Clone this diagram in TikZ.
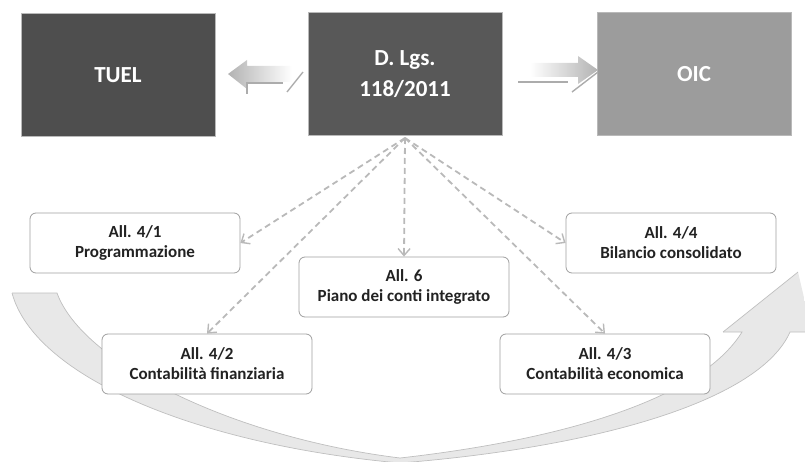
\documentclass[tikz,border=0pt]{standalone}
\usepackage{fontspec}
\setmainfont{Carlito}
\usetikzlibrary{arrows.meta}
\definecolor{tuelc}{HTML}{4E4E4E}
\definecolor{dlgsc}{HTML}{585858}
\definecolor{oicc}{HTML}{9C9C9C}
\definecolor{txt}{HTML}{222222}
\tikzset{
  topbox/.style={draw=gray!55, line width=0.8pt, minimum width=194pt, minimum height=123pt,
    text=white, font=\bfseries\fontsize{23}{31}\selectfont, align=center, inner sep=0pt},
  allbox/.style={draw=gray!75, line width=0.8pt, fill=white, rounded corners=6pt,
    minimum width=210pt, minimum height=60pt, text=txt, align=center,
    font=\bfseries\fontsize{17}{20}\selectfont, inner sep=0pt},
  dasharrow/.style={draw=gray!55, line width=1.8pt, dash pattern=on 6pt off 4pt,
    -{Straight Barb[length=7pt,width=12pt,line width=1.4pt]}},
  edgeline/.style={draw=gray!50, line width=0.7pt},
  sidearrowline/.style={draw=gray!65, line width=1.4pt},
}
\begin{document}
\begin{tikzpicture}[x=1pt,y=-1pt]
\useasboundingbox (0,0) rectangle (805,462);
% big swoosh
\begin{scope}
\clip (0,0) rectangle (805,462);
\path[left color=gray!18, middle color=white, right color=gray!18, shading angle=90]
  (12,293) .. controls (35,378) and (200,445) .. (400,463)
  .. controls (600,447) and (760,400) .. (790,332)
  -- (812,332) -- (798,272) -- (723,332) -- (742,332)
  .. controls (700,400) and (560,440) .. (400,458)
  .. controls (230,437) and (82,362) .. (57,293) -- cycle;
\draw[edgeline] (12,293) .. controls (35,378) and (200,445) .. (400,463)
  .. controls (600,447) and (760,400) .. (790,332) -- (812,332);
\draw[edgeline] (723,332) -- (798,272);
\draw[edgeline] (723,332) -- (742,332)
  .. controls (700,400) and (560,440) .. (400,458)
  .. controls (230,437) and (82,362) .. (57,293) -- (12,293);
\end{scope}
% top boxes
\node[topbox, fill=tuelc] (tuel) at (118,75) {TUEL};
\node[topbox, fill=dlgsc] (dlgs) at (405,74) {D. Lgs.\\118/2011};
\node[topbox, fill=oicc] (oic) at (694,74) {OIC};
% side arrows
\path[left color=gray!60, right color=white]
  (228,74) -- (247,60) -- (247,66) -- (292,66) -- (292,82) -- (247,82) -- (247,89) -- cycle;
\draw[sidearrowline] (247,94) -- (247,83) -- (283,83);
\draw[sidearrowline] (287,92) -- (303,72);
\path[left color=white, right color=gray!60]
  (530,63) -- (578,63) -- (578,56) -- (598,70) -- (578,84) -- (578,77) -- (530,77) -- cycle;
\draw[sidearrowline] (518,82) -- (568,82);
\draw[sidearrowline] (572,92) -- (598,72);
% lower boxes
\node[allbox] (a41) at (135,243) {All. 4/1\\Programmazione};
\node[allbox] (a6) at (404,287) {All. 6\\Piano dei conti integrato};
\node[allbox] (a44) at (671,243) {All. 4/4\\Bilancio consolidato};
\node[allbox] (a42) at (207,364) {All. 4/2\\Contabilità finanziaria};
\node[allbox] (a43) at (605,364) {All. 4/3\\Contabilità economica};
% dashed connectors
\coordinate (apex) at (405,138);
\draw[dasharrow] (apex) -- (a41.east);
\draw[dasharrow] (apex) -- (a6.north);
\draw[dasharrow] (apex) -- (a44.west);
\draw[dasharrow] (apex) -- (a42.north);
\draw[dasharrow] (apex) -- (a43.north);
\end{tikzpicture}
\end{document}
